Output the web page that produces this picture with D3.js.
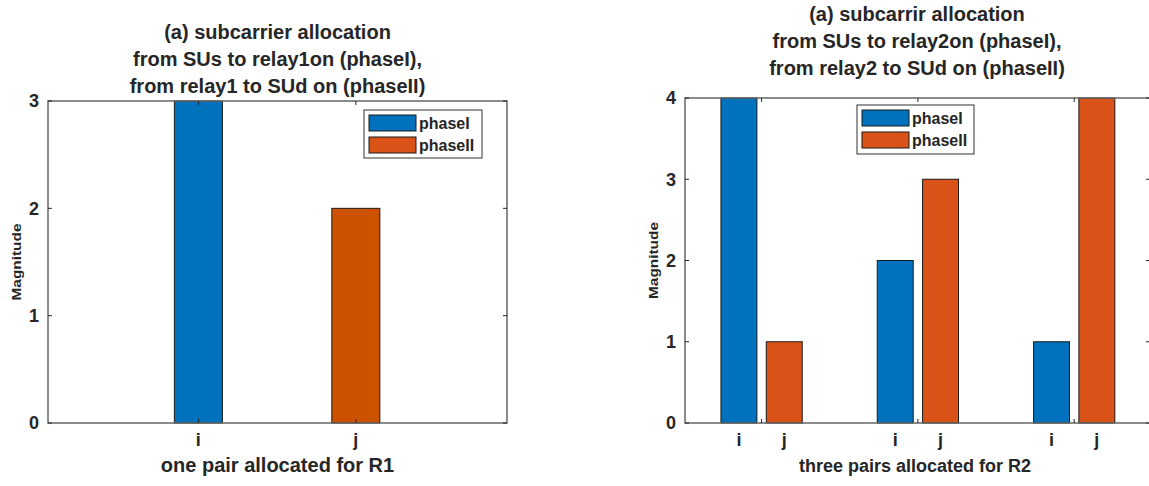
<!DOCTYPE html>
<html>
<head>
<meta charset="utf-8">
<script src="https://cdn.jsdelivr.net/npm/d3@7"></script>
<style>
  html, body { margin: 0; padding: 0; background: #fff; }
  svg { display: block; font-family: "Liberation Sans", Arial, Helvetica, sans-serif; font-weight: bold; }
</style>
</head>
<body>
<svg id="chart" width="1149" height="486"></svg>
<script>
// ---------- data ----------
const leftCategories = ["i", "j"];
const leftPhaseI = [3, 0];
const leftPhaseII = [0, 2];
const leftYTicks = [0, 1, 2, 3];
const leftTitle = ["(a) subcarrier allocation", "from SUs to relay1on (phaseI),", "from relay1 to SUd on (phaseII)"];
const leftXLabel = "one pair allocated for R1";

const rightGroups = [1, 2, 3];
const rightCategories = ["i", "j"];
const rightPhaseI = [4, 2, 1];
const rightPhaseII = [1, 3, 4];
const rightYTicks = [0, 1, 2, 3, 4];
const rightTitle = ["(a) subcarrir allocation", "from SUs to relay2on (phaseI),", "from relay2 to SUd on (phaseII)"];
const rightXLabel = "three pairs allocated for R2";

const seriesNames = ["phaseI", "phaseII"];
const yLabel = "Magnitude";

// ---------- styles ----------
const BLUE = "#0072BD";
const ORANGE = "#D95319";
const ORANGE_LEFT = "#CC5200";
const TEXT = "#262626";
const AXIS = "#666666";
const EDGE = "#1a1a1a";

const svg = d3.select("#chart");

function drawFrame(g, x, y, xr, yr, yTicks, xTickVals, tickLen) {
  g.append("rect")
    .attr("x", xr[0]).attr("y", yr[1])
    .attr("width", xr[1] - xr[0]).attr("height", yr[0] - yr[1])
    .attr("fill", "none").attr("stroke", AXIS).attr("stroke-width", 1.5);
  yTicks.forEach(t => {
    const yy = y(t);
    g.append("line").attr("x1", xr[0]).attr("x2", xr[0] + tickLen).attr("y1", yy).attr("y2", yy)
      .attr("stroke", TEXT).attr("stroke-width", 1);
    g.append("line").attr("x1", xr[1]).attr("x2", xr[1] - tickLen).attr("y1", yy).attr("y2", yy)
      .attr("stroke", TEXT).attr("stroke-width", 1);
  });
  xTickVals.forEach(t => {
    const xx = x(t);
    g.append("line").attr("x1", xx).attr("x2", xx).attr("y1", yr[0]).attr("y2", yr[0] - tickLen)
      .attr("stroke", TEXT).attr("stroke-width", 1);
    g.append("line").attr("x1", xx).attr("x2", xx).attr("y1", yr[1]).attr("y2", yr[1] + tickLen)
      .attr("stroke", TEXT).attr("stroke-width", 1);
  });
  const ax = d3.axisLeft(y).tickValues(yTicks).tickSize(0).tickPadding(9).tickFormat(d3.format("d"));
  const axg = g.append("g").attr("transform", `translate(${xr[0]},0)`).call(ax);
  axg.select(".domain").remove();
  axg.selectAll("text").attr("font-size", 18).attr("font-weight", "bold")
    .attr("fill", TEXT).attr("font-family", "Liberation Sans, Arial, sans-serif");
}

function drawTitle(g, lines, cx, baselines) {
  lines.forEach((ln, i) => {
    g.append("text").attr("x", cx).attr("y", baselines[i]).attr("text-anchor", "middle")
      .attr("font-size", 20).attr("fill", TEXT).text(ln);
  });
}

function drawYLabel(g, xPos, yCenter) {
  g.append("text").attr("transform", `translate(${xPos},${yCenter}) rotate(-90)`)
    .attr("text-anchor", "middle").attr("font-size", 13).attr("fill", TEXT)
    .attr("textLength", 77).attr("lengthAdjust", "spacingAndGlyphs").text(yLabel);
}

function drawLegend(g, x0, y0, w, h, colors) {
  g.append("rect").attr("x", x0).attr("y", y0).attr("width", w).attr("height", h)
    .attr("fill", "#fff").attr("stroke", "#333").attr("stroke-width", 1);
  seriesNames.forEach((name, i) => {
    const sy = y0 + 5 + i * 22;
    g.append("rect").attr("x", x0 + 5).attr("y", sy).attr("width", 47).attr("height", 16)
      .attr("fill", colors[i]).attr("stroke", EDGE).attr("stroke-width", 1);
    g.append("text").attr("x", x0 + 55).attr("y", sy + 14).attr("font-size", 16)
      .attr("fill", TEXT).text(name);
  });
}

// ---------- LEFT CHART ----------
{
  const g = svg.append("g");
  const xr = [48, 507], yr = [423, 101];
  const x = d3.scaleLinear().domain([0.045, 2.96]).range(xr);
  const y = d3.scaleLinear().domain([0, 3]).range(yr);
  const pos = leftCategories.map((c, i) => i + 1);
  const barW = x(1.305) - x(1);

  const rows = leftCategories.map((c, i) => ({ pos: pos[i], phaseI: leftPhaseI[i], phaseII: leftPhaseII[i] }));
  const stacked = d3.stack().keys(seriesNames)(rows);
  const colors = [BLUE, ORANGE_LEFT];
  stacked.forEach((layer, si) => {
    g.selectAll(null).data(layer).enter().append("rect")
      .attr("x", d => x(d.data.pos) - barW / 2)
      .attr("y", d => y(d[1]))
      .attr("width", barW)
      .attr("height", d => y(d[0]) - y(d[1]))
      .attr("fill", colors[si]).attr("stroke", EDGE).attr("stroke-width", 1);
  });

  drawFrame(g, x, y, xr, yr, leftYTicks, pos, 4);

  leftCategories.forEach((c, i) => {
    g.append("text").attr("x", x(pos[i])).attr("y", 446).attr("text-anchor", "middle")
      .attr("font-size", 18).attr("fill", TEXT).text(c);
  });
  g.append("text").attr("x", (xr[0] + xr[1]) / 2).attr("y", 472).attr("text-anchor", "middle")
    .attr("font-size", 20).attr("fill", TEXT).text(leftXLabel);

  drawTitle(g, leftTitle, (xr[0] + xr[1]) / 2, [39, 66, 93]);
  drawYLabel(g, 21, (yr[0] + yr[1]) / 2);
  drawLegend(g, 364, 110, 118, 48, [BLUE, ORANGE]);
}

// ---------- RIGHT CHART ----------
{
  const g = svg.append("g");
  const xr = [685, 1150], yr = [423, 98];
  const x = d3.scaleLinear().domain([0.51, 3.485]).range(xr);
  const y = d3.scaleLinear().domain([0, 4]).range(yr);
  const off = 0.145, bw = 0.23;
  const barW = x(1 + bw) - x(1);

  const series = [rightPhaseI, rightPhaseII];
  const colors = [BLUE, ORANGE];
  series.forEach((vals, si) => {
    const sgn = si === 0 ? -1 : 1;
    g.selectAll(null).data(vals).enter().append("rect")
      .attr("x", (d, i) => x(rightGroups[i] + sgn * off) - barW / 2)
      .attr("y", d => y(d))
      .attr("width", barW)
      .attr("height", d => y(0) - y(d))
      .attr("fill", colors[si]).attr("stroke", EDGE).attr("stroke-width", 1);
  });

  drawFrame(g, x, y, xr, yr, rightYTicks, rightGroups, 4);

  rightGroups.forEach(gp => {
    rightCategories.forEach((c, ci) => {
      const sgn = ci === 0 ? -1 : 1;
      g.append("text").attr("x", x(gp + sgn * off)).attr("y", 446).attr("text-anchor", "middle")
        .attr("font-size", 18).attr("fill", TEXT).text(c);
    });
  });
  g.append("text").attr("x", 915).attr("y", 472).attr("text-anchor", "middle")
    .attr("font-size", 18).attr("fill", TEXT).text(rightXLabel);

  drawTitle(g, rightTitle, 917, [21, 48, 75]);
  drawYLabel(g, 658, (yr[0] + yr[1]) / 2);
  drawLegend(g, 857, 105, 117, 49, [BLUE, ORANGE]);
}
</script>
</body>
</html>
